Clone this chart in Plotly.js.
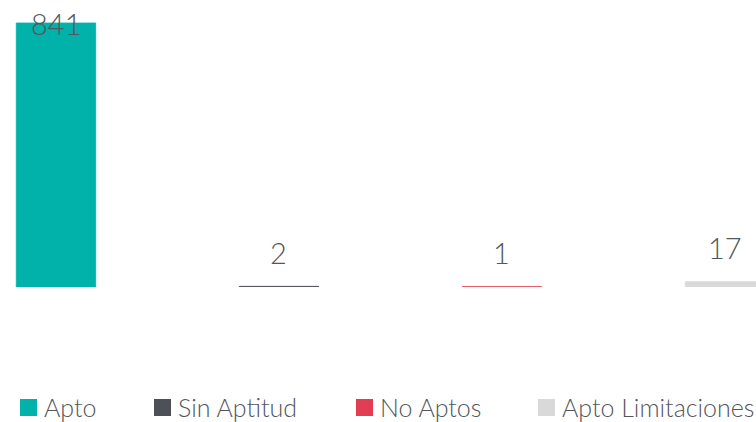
<!DOCTYPE html>
<html>
<head>
<meta charset="utf-8">
<script src="https://cdn.plot.ly/plotly-3.0.1.min.js"></script>
<style>html,body{margin:0;padding:0;background:#fff;}#chart{width:756px;height:422px;}</style>
</head>
<body>
<div id="chart"></div>
<script>
const categories = ["Apto", "Sin Aptitud", "No Aptos", "Apto Limitaciones"];
const values = [841, 2, 1, 17];
const colors = ["#00b2a9", "#4d5057", "#e23d52", "#d9d9d9"];

const W = 756, H = 422, B = 135, PH = H - B;
const textColor = "#53565c";
const font = "Lato, Open Sans, sans-serif";

const trace = {
  type: "bar",
  x: categories,
  y: values,
  marker: {color: colors, line: {color: colors, width: 0.8}},
  width: 0.356,
  hoverinfo: "x+y",
  showlegend: false
};

const maxV = Math.max(...values);
const annotations = values.map((v, i) => ({
  x: categories[i], y: v, xref: "x", yref: "y",
  text: String(v), showarrow: false,
  yanchor: "middle", yshift: v === maxV ? 0 : 34,
  font: {family: font, size: 29, weight: 300, color: textColor}
}));

// manual legend (pixel positions converted to paper)
const legendX = [20, 154, 356, 538];
const py = p => (PH - p) / PH;
const shapes = [];
categories.forEach((c, i) => {
  shapes.push({type: "rect", xref: "paper", yref: "paper",
    x0: legendX[i] / W, x1: (legendX[i] + 17) / W,
    y0: py(416), y1: py(399), line: {width: 0}, fillcolor: colors[i]});
  annotations.push({xref: "paper", yref: "paper",
    x: (legendX[i] + 22) / W, y: py(406.5), xanchor: "left", yanchor: "middle",
    text: c, showarrow: false,
    font: {family: font, size: 25, weight: 300, color: textColor}});
});

const layout = {
  width: W, height: H,
  margin: {l: 0, r: 0, t: 0, b: B, pad: 0},
  paper_bgcolor: "#fff", plot_bgcolor: "#fff",
  xaxis: {type: "category", range: [-0.251, 3.139], visible: false, fixedrange: true},
  yaxis: {range: [0, 914.3], visible: false, fixedrange: true},
  showlegend: false,
  annotations: annotations,
  shapes: shapes
};

Plotly.newPlot("chart", [trace], layout, {displayModeBar: false, staticPlot: true});
</script>
</body>
</html>
